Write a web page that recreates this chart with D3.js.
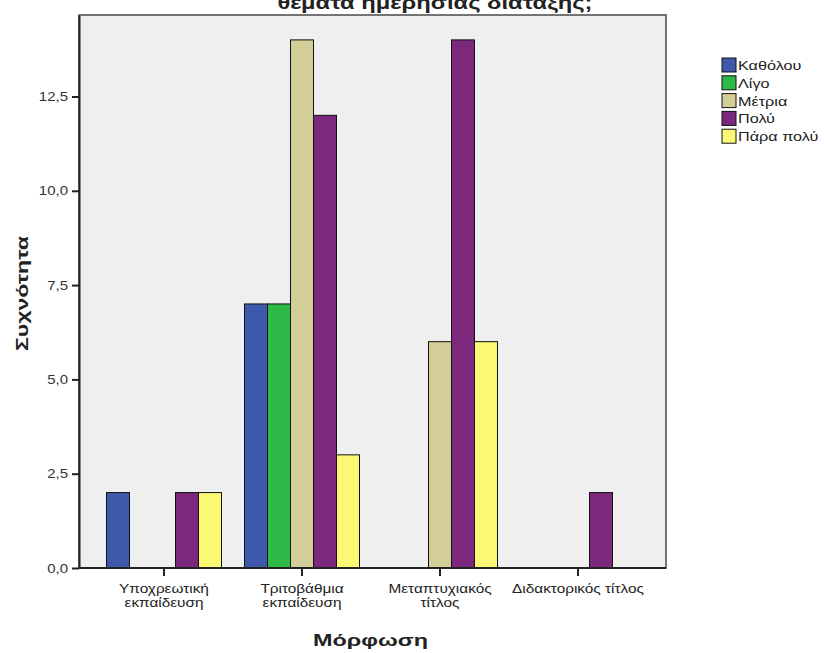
<!DOCTYPE html>
<html>
<head>
<meta charset="utf-8">
<script src="https://cdn.jsdelivr.net/npm/d3@7"></script>
<style>
  body { margin: 0; background: #fff; }
  svg { display: block; font-family: "Liberation Sans", Arial, sans-serif; }
</style>
</head>
<body>
<svg id="chart" width="824" height="653"></svg>
<script>
// ---- data ----
const categories = [
  ["Υποχρεωτική", "εκπαίδευση"],
  ["Τριτοβάθμια", "εκπαίδευση"],
  ["Μεταπτυχιακός", "τίτλος"],
  ["Διδακτορικός τίτλος"]
];
const seriesNames = ["Καθόλου", "Λίγο", "Μέτρια", "Πολύ", "Πάρα πολύ"];
const kathólou   = [2, 7, 0, 0];
const ligo       = [0, 7, 0, 0];
const metria     = [0, 14, 6, 0];
const poly       = [2, 12, 14, 2];
const paraPoly   = [2, 3, 6, 0];
const seriesValues = [kathólou, ligo, metria, poly, paraPoly];
const seriesColors = ["#3e58ac", "#2eb848", "#d3ce97", "#7c287d", "#fbf873"];
const yTicks = [0, 2.5, 5, 7.5, 10, 12.5];
const titleText = "θέματα ημερήσιας διάταξης;";
const xTitle = "Μόρφωση";
const yTitle = "Συχνότητα";

// ---- layout ----
const plot = { left: 79, right: 666, top: 15, bottom: 568 };
const svg = d3.select("#chart");

const catKeys = categories.map(c => c.join(" "));
const x0 = d3.scaleBand().domain(catKeys).range([95, 647]).paddingInner(0).paddingOuter(0);
const groupW = 115;
const x1 = d3.scaleBand().domain(seriesNames).range([0, groupW]).padding(0);
const y = d3.scaleLinear().domain([0, 14.66]).range([plot.bottom, plot.top]);

// plot background
svg.append("rect")
  .attr("x", plot.left).attr("y", plot.top)
  .attr("width", plot.right - plot.left).attr("height", plot.bottom - plot.top)
  .attr("fill", "#efefef").attr("stroke", "#4a4a4a").attr("stroke-width", 1.5);

// bars
const data = [];
catKeys.forEach((c, i) => {
  seriesNames.forEach((s, j) => {
    data.push({ cat: c, series: s, value: seriesValues[j][i], color: seriesColors[j] });
  });
});
svg.append("g").selectAll("rect")
  .data(data.filter(d => d.value > 0))
  .join("rect")
  .attr("x", d => x0(d.cat) + (x0.bandwidth() - groupW) / 2 + x1(d.series))
  .attr("width", x1.bandwidth())
  .attr("y", d => y(d.value))
  .attr("height", d => y(0) - y(d.value))
  .attr("fill", d => d.color)
  .attr("stroke", "#111").attr("stroke-width", 1);

// y axis
const fmt = v => d3.format(".1f")(v).replace(".", ",");
const yAxis = svg.append("g")
  .attr("transform", `translate(${plot.left},0)`)
  .call(d3.axisLeft(y).tickValues(yTicks).tickFormat(fmt).tickSize(7).tickSizeOuter(0));
yAxis.select(".domain").attr("stroke", "#222").attr("stroke-width", 2);
yAxis.selectAll(".tick line").attr("stroke", "#222").attr("stroke-width", 2);
yAxis.selectAll(".tick text").attr("font-size", 12.5).attr("fill", "#333")
  .attr("x", -11 / 1.2).attr("transform", "scale(1.2,1)");

// x axis
const xAxis = svg.append("g")
  .attr("transform", `translate(0,${plot.bottom})`)
  .call(d3.axisBottom(x0).tickSize(8).tickSizeOuter(0).tickFormat(""));
xAxis.select(".domain").attr("stroke", "#222").attr("stroke-width", 2).attr("d", `M${plot.left},0H${plot.right}`);
xAxis.selectAll(".tick line").attr("stroke", "#222").attr("stroke-width", 2);
xAxis.selectAll(".tick").each(function(d, i) {
  const t = d3.select(this).append("text")
    .attr("fill", "#222").attr("font-size", 12).attr("text-anchor", "middle")
    .attr("transform", "translate(0,25) scale(1.28,1)");
  categories[i].forEach((line, k) => {
    t.append("tspan").attr("x", 0).attr("dy", k === 0 ? 0 : 14).text(line);
  });
});

// axis titles
svg.append("text")
  .attr("x", (plot.left + plot.right) / 2 - 2).attr("y", 646)
  .attr("text-anchor", "middle").attr("font-size", 17).attr("font-weight", "bold")
  .attr("textLength", 115).attr("lengthAdjust", "spacingAndGlyphs")
  .attr("fill", "#222").text(xTitle);
svg.append("text")
  .attr("transform", `translate(28,${(plot.top + plot.bottom) / 2 + 2}) rotate(-90)`)
  .attr("text-anchor", "middle").attr("font-size", 16).attr("font-weight", "bold")
  .attr("textLength", 115).attr("lengthAdjust", "spacingAndGlyphs")
  .attr("fill", "#222").text(yTitle);

// title (clipped at top, as in the reference)
svg.append("text")
  .attr("x", 435).attr("y", 9)
  .attr("text-anchor", "middle").attr("font-size", 18).attr("font-weight", "bold")
  .attr("textLength", 315).attr("lengthAdjust", "spacingAndGlyphs")
  .attr("fill", "#222").text(titleText);

// legend
const legend = svg.append("g").attr("transform", "translate(722,58)");
seriesNames.forEach((s, i) => {
  const g = legend.append("g").attr("transform", `translate(0,${i * 17.8})`);
  g.append("rect").attr("width", 14).attr("height", 14)
    .attr("fill", seriesColors[i]).attr("stroke", "#111").attr("stroke-width", 1);
  g.append("text").attr("font-size", 12).attr("fill", "#222")
    .attr("transform", "translate(16,12) scale(1.35,1)").text(s);
});
</script>
</body>
</html>
